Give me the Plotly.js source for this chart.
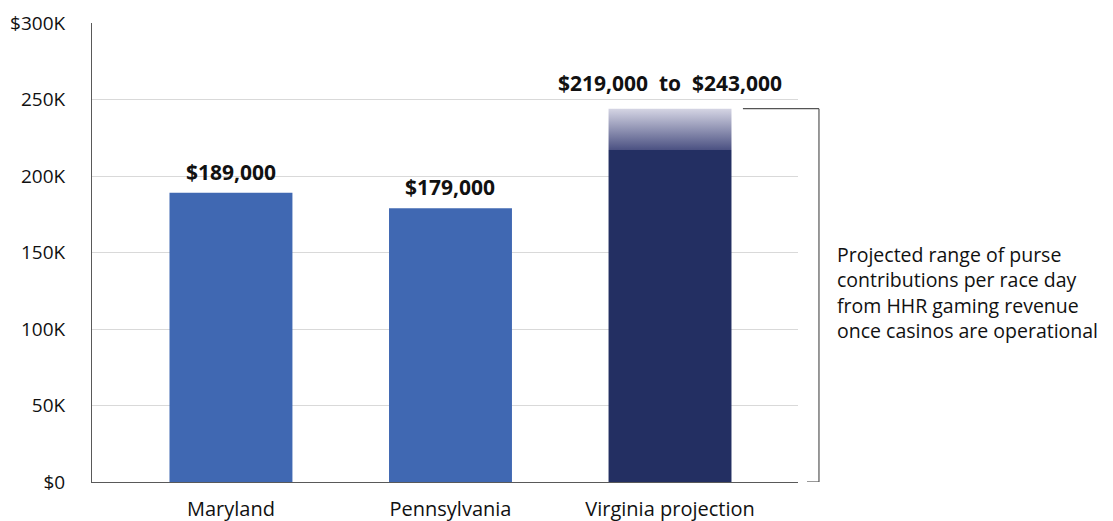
<!DOCTYPE html>
<html>
<head>
<meta charset="utf-8">
<script src="https://cdn.plot.ly/plotly-3.0.1.min.js"></script>
<style>html,body{margin:0;padding:0;background:#fff;}#chart{width:1113px;height:521px;}</style>
</head>
<body>
<div id="chart"></div>
<script>
const categories = ["Maryland", "Pennsylvania", "Virginia projection"];
const actualValues = [189000, 179000, null];
const projectionLow = 217000;
const projectionHigh = 244000;
const dataLabels = ["$189,000", "$179,000", "$219,000  to  $243,000"];
const yTickVals = [0, 50000, 100000, 150000, 200000, 250000, 300000];
const yTickText = ["$0", "50K", "100K", "150K", "200K", "250K", "$300K"];
const noteLines = ["Projected range of purse", "contributions per race day", "from HHR gaming revenue", "once casinos are operational"];

const FONT = "'Open Sans', 'Noto Sans', sans-serif";
const BAR_W = 0.56;
const idx = categories.map((c, i) => i);
const vIdx = 2;

const traces = [
  {
    type: "bar",
    x: idx.slice(0, 2),
    y: actualValues.slice(0, 2),
    width: BAR_W,
    marker: {color: "#4068b2"},
    hoverinfo: "skip"
  },
  {
    type: "bar",
    x: [vIdx],
    y: [projectionLow],
    width: BAR_W,
    marker: {color: "#232f62"},
    hoverinfo: "skip"
  },
  {
    type: "scatter",
    mode: "lines",
    x: [vIdx - BAR_W / 2, vIdx + BAR_W / 2, vIdx + BAR_W / 2, vIdx - BAR_W / 2, vIdx - BAR_W / 2],
    y: [projectionLow, projectionLow, projectionHigh, projectionHigh, projectionLow],
    fill: "toself",
    line: {width: 0},
    fillgradient: {type: "vertical", colorscale: [[0, "#4b5182"], [1, "#d5d5e4"]]},
    hoverinfo: "skip"
  }
];

const annotations = [];
idx.forEach(i => {
  const top = i === vIdx ? projectionHigh : actualValues[i];
  annotations.push({
    x: i, y: top, xref: "x", yref: "y",
    text: "<b>" + dataLabels[i] + "</b>",
    showarrow: false, yanchor: "bottom", yshift: i === vIdx ? 10 : 5,
    font: {family: FONT, size: 21, color: "#111"}
  });
});
annotations.push({
  x: 1.052, y: 0.412, xref: "paper", yref: "paper",
  xanchor: "left", yanchor: "middle", align: "left",
  text: noteLines.join("<br>"), showarrow: false,
  font: {family: FONT, size: 19.5, color: "#111"}
});

const shapes = [
  {type: "line", xref: "paper", yref: "y", x0: 0.922, x1: 1.0297, y0: projectionHigh, y1: projectionHigh, line: {color: "#555", width: 1.2}},
  {type: "line", xref: "paper", yref: "y", x0: 1.0297, x1: 1.0297, y0: projectionHigh, y1: 0, line: {color: "#555", width: 1.2}},
  {type: "line", xref: "paper", yref: "y", x0: 1.0127, x1: 1.0297, y0: 0, y1: 0, line: {color: "#555", width: 1.2}}
];

const layout = {
  width: 1113, height: 521,
  margin: {l: 92, r: 315, t: 23, b: 39},
  paper_bgcolor: "#fff", plot_bgcolor: "#fff",
  showlegend: false,
  barmode: "overlay",
  font: {family: FONT, size: 17, color: "#111"},
  xaxis: {
    range: [-0.633, 2.583], tickvals: idx, ticktext: categories,
    showgrid: false, zeroline: false, showline: true, linecolor: "#595959", linewidth: 1,
    ticks: "", ticklabelstandoff: 9, fixedrange: true,
    tickfont: {family: FONT, size: 20, color: "#111"}
  },
  yaxis: {
    range: [0, 300000], tickvals: yTickVals, ticktext: yTickText,
    showgrid: true, gridcolor: "#d9d9d9", gridwidth: 1, zeroline: false,
    showline: true, linecolor: "#595959", linewidth: 1,
    ticks: "", ticklabelstandoff: 22, fixedrange: true,
    tickfont: {family: FONT, size: 19, color: "#111"}
  },
  annotations: annotations,
  shapes: shapes
};

Plotly.newPlot("chart", traces, layout, {displayModeBar: false, staticPlot: true});
</script>
</body>
</html>
